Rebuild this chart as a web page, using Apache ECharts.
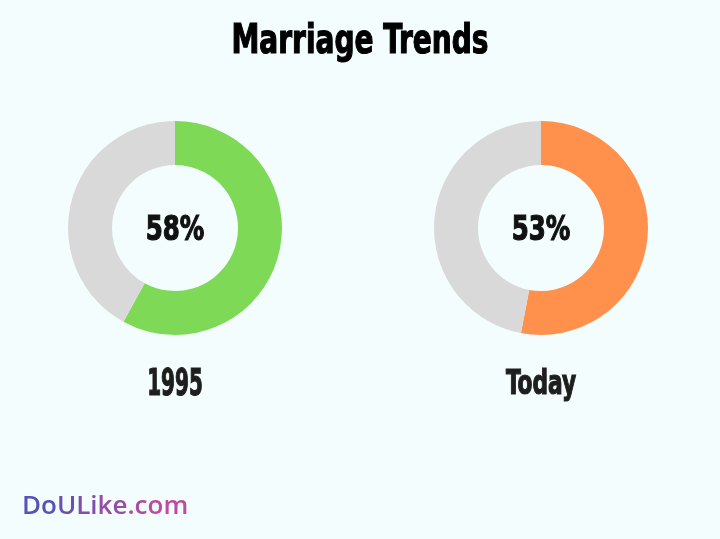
<!DOCTYPE html>
<html>
<head>
<meta charset="utf-8">
<script src="https://cdn.jsdelivr.net/npm/echarts@6/dist/echarts.min.js"></script>
<style>
html,body{margin:0;padding:0;background:#f3fdfd;}
#chart{width:720px;height:539px;}
</style>
</head>
<body>
<div id="chart"></div>
<script>
const categories = ['1995', 'Today'];
const values = [58, 53];
const colors = ['#7ed957', '#ff914d'];
const restColor = '#d9d9d9';
const titleText = 'Marriage Trends';
const brandParts = ['Do', 'U', 'Li', 'ke', '.c', 'om'];
const brandColors = ['#5752b6', '#6a50b3', '#824eae', '#984ca9', '#ae4ba4', '#c04aa0'];

const condensed = "'DejaVu Sans Condensed', 'DejaVu Sans', sans-serif";
const centersX = [175, 541];
const centerY = 228;

const chart = echarts.init(document.getElementById('chart'));

const series = categories.map((cat, i) => ({
  type: 'pie',
  center: [centersX[i], centerY],
  radius: [63, 107],
  startAngle: 90,
  clockwise: true,
  silent: true,
  animation: false,
  labelLine: {show: false},
  label: {show: false},
  data: [
    {value: values[i], name: cat, itemStyle: {color: colors[i]}},
    {value: 100 - values[i], name: 'rest', itemStyle: {color: restColor}}
  ]
}));

function heavyText(text, x, y, size, scaleX, color) {
  return {
    type: 'text', x: x, y: y, scaleX: scaleX, silent: true,
    style: {
      text: text, align: 'center', verticalAlign: 'middle',
      font: 'bold ' + size + 'px ' + condensed,
      fill: color, stroke: color, lineWidth: 1.2
    }
  };
}

const graphics = [heavyText(titleText, 360, 42, 41, 0.76, '#000')];
categories.forEach((cat, i) => {
  graphics.push(heavyText(values[i] + '%', centersX[i], 231, 34, 0.8, '#111'));
});
graphics.push(heavyText(categories[0], centersX[0], 385, 37, 0.6, '#1e1e1e'));
graphics.push(heavyText(categories[1], centersX[1], 385, 34, 0.71, '#1e1e1e'));

const rich = {};
brandParts.forEach((p, i) => {
  rich['p' + i] = {
    fill: brandColors[i], color: brandColors[i],
    font: "600 26px 'Open Sans', 'Noto Sans', sans-serif"
  };
});
graphics.push({
  type: 'text', x: 22, y: 507, silent: true,
  style: {
    text: brandParts.map((p, i) => '{p' + i + '|' + p + '}').join(''),
    verticalAlign: 'middle',
    font: "600 26px 'Open Sans', 'Noto Sans', sans-serif",
    rich: rich
  }
});

chart.setOption({
  backgroundColor: '#f3fdfd',
  graphic: graphics,
  series: series
});
</script>
</body>
</html>
